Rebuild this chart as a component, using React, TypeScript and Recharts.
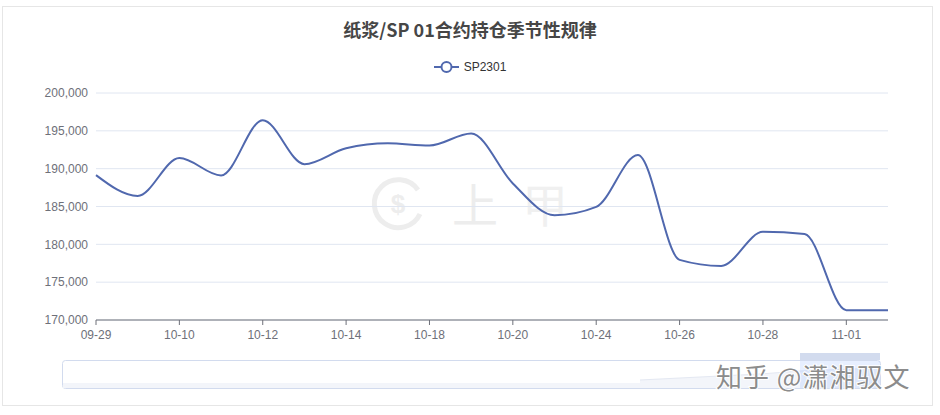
import React from 'react';
import { LineChart, Line, XAxis, YAxis, CartesianGrid } from 'recharts';

const dates = ['09-29', '09-30', '10-10', '10-11', '10-12', '10-13', '10-14', '10-17', '10-18', '10-19', '10-20', '10-21', '10-24', '10-25', '10-26', '10-27', '10-28', '10-31', '11-01', '11-02'];
const sp2301 = [189150, 186400, 191400, 189100, 196400, 190600, 192700, 193350, 193050, 194650, 188050, 183850, 184950, 191800, 177950, 177150, 181650, 181350, 171300, 171300];
const yTicks = [170000, 175000, 180000, 185000, 190000, 195000, 200000];
const title = '纸浆/SP 01合约持仓季节性规律';
const seriesName = 'SP2301';

const data = dates.map((d, i) => ({ date: d, SP2301: sp2301[i] }));

const LINE_COLOR = '#5068AE';
const FONT = '"Liberation Sans", "Noto Sans CJK SC", sans-serif';

export default function App() {
  return (
    <div style={{ position: 'absolute', left: 0, top: 0, width: 940, height: 415, background: '#fff', overflow: 'hidden' }}>
      <div style={{ position: 'absolute', left: 2, top: 6, width: 931, height: 400, border: '1px solid #E6E6E6', boxSizing: 'border-box' }} />
      {/* background logo watermark */}
      <svg width={940} height={415} style={{ position: 'absolute', left: 0, top: 0 }}>
        <path d="M 418 190 A 24 24 0 1 0 420 214" fill="none" stroke="#EDEDED" strokeWidth={5} />
        <text x={398} y={213} textAnchor="middle" fontSize={26} fill="#EDEDED" fontFamily={FONT} fontWeight="bold">$</text>
        <text x={475} y={222} textAnchor="middle" fontSize={46} fill="#EDEDED" fontFamily='"Noto Sans CJK SC"'>上</text>
        <text x={545} y={222} textAnchor="middle" fontSize={46} fill="#F0F0F0" fontFamily='"Noto Sans CJK SC"'>甲</text>
      </svg>
      <div style={{ position: 'absolute', left: 0, top: 0 }}>
        <LineChart width={940} height={415} data={data} margin={{ top: 93, right: 52, left: 0, bottom: 65 }}>
          <CartesianGrid horizontal vertical={false} stroke="#E0E6F1" />
          <XAxis
            dataKey="date"
            interval={1}
            axisLine={{ stroke: '#6E7079' }}
            tickLine={{ stroke: '#6E7079' }}
            tickSize={5}
            tick={{ fill: '#6E7079', fontSize: 12, fontFamily: FONT }}
            tickMargin={5}
          />
          <YAxis
            domain={[170000, 200000]}
            ticks={yTicks}
            width={96}
            axisLine={false}
            tickLine={false}
            tickFormatter={(v: number) => v.toLocaleString('en-US')}
            tick={{ fill: '#6E7079', fontSize: 12, fontFamily: FONT }}
          />
          <Line type="monotone" dataKey="SP2301" stroke={LINE_COLOR} strokeWidth={2} dot={false} isAnimationActive={false} />
        </LineChart>
      </div>
      {/* legend */}
      <div style={{ position: 'absolute', left: 0, top: 60, width: 940, display: 'flex', justifyContent: 'center', alignItems: 'center' }}>
        <svg width={26} height={14} style={{ marginRight: 4 }}>
          <line x1={0} y1={7} x2={25} y2={7} stroke={LINE_COLOR} strokeWidth={2} />
          <circle cx={12.5} cy={7} r={5} fill="#fff" stroke={LINE_COLOR} strokeWidth={2} />
        </svg>
        <span style={{ fontFamily: FONT, fontSize: 12, color: '#333', lineHeight: '14px' }}>{seriesName}</span>
      </div>
      {/* title, data zoom slider and watermark */}
      <svg width={940} height={415} style={{ position: 'absolute', left: 0, top: 0, pointerEvents: 'none' }}>
        <text x={470} y={37} textAnchor="middle" fontSize={18} fontWeight="bold" fill="#464646" fontFamily='"Noto Sans CJK SC", sans-serif'>{title}</text>
        <rect x={62.5} y={360.5} width={818} height={28} rx={3} fill="none" stroke="#D2DBEE" />
        <rect x={63} y={383} width={817} height={5} fill="#F3F5FA" />
        <path d="M640,380 L700,377 L760,374 L800,371 L880,368 L880,388 L640,388 Z" fill="#F3F5FA" />
        <path d="M640,380 L700,377 L760,374 L800,371 L880,368" fill="none" stroke="#E4E8F2" />
        <rect x={800} y={361} width={80} height={27} fill="rgba(135,175,274,0.2)" />
        <rect x={800} y={353} width={80} height={7} fill="#D2DBEE" />
        <text x={716} y={387} fontSize={26} letterSpacing={1} fill="#8C8C8C" stroke="#fff" strokeWidth={2} paintOrder="stroke" fontFamily='"Noto Sans CJK SC"'>知乎 @潇湘驭文</text>
      </svg>
    </div>
  );
}
